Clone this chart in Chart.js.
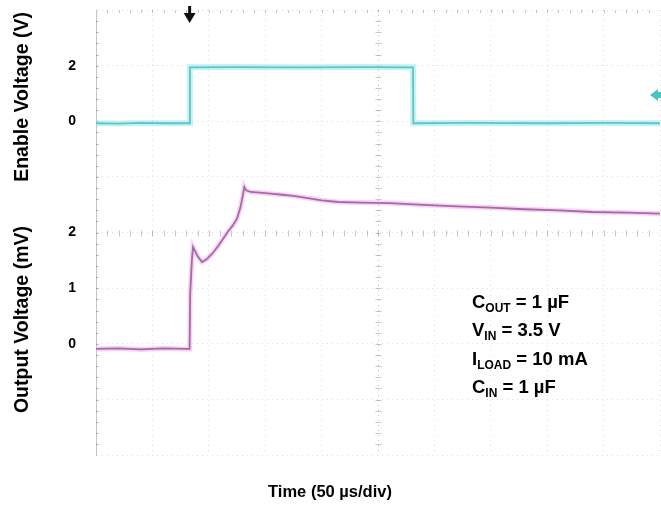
<!DOCTYPE html>
<html><head><meta charset="utf-8">
<script src="https://cdn.jsdelivr.net/npm/chart.js@4.4.1/dist/chart.umd.min.js"></script>
<style>html,body{margin:0;padding:0;background:#fff}#wrap{width:661px;height:506px;position:relative}</style>
</head><body><div id="wrap"><canvas id="c" width="661" height="506"></canvas></div>
<script>
// ---- data (read from the scope capture) ----
const enableTimeUs = [0, 20, 40, 60, 83, 83.3, 120, 180, 240, 281, 281.3, 330, 400, 450, 500];
const enableVolts  = [-0.07, -0.08, -0.06, -0.07, -0.07, 1.94, 1.95, 1.94, 1.95, 1.94, -0.07, -0.06, -0.07, -0.06, -0.07];
const outputTimeUs = [0, 20, 40, 60, 80, 83, 83.5, 85, 86, 90, 94, 98, 103, 108, 113, 117, 121, 125, 128, 130, 131.5, 133, 137, 145, 155, 165, 175, 185, 200, 215, 235, 260, 290, 320, 350, 380, 410, 440, 470, 500];
const outputMilliVolts = [-0.09, -0.08, -0.1, -0.08, -0.09, -0.09, 0.9, 1.5, 1.74, 1.58, 1.47, 1.52, 1.62, 1.75, 1.9, 2.02, 2.12, 2.25, 2.45, 2.65, 2.82, 2.76, 2.73, 2.72, 2.70, 2.68, 2.66, 2.63, 2.58, 2.55, 2.54, 2.53, 2.50, 2.47, 2.45, 2.42, 2.40, 2.37, 2.36, 2.34];
const enableTickLabels = [0, 2];
const outputTickLabels = [0, 1, 2];
const timeGridUs = [0, 50, 100, 150, 200, 250, 300, 350, 400, 450, 500];
const triggerTimeUs = 83;
const noteLines = [["C", "OUT", " = 1 µF"], ["V", "IN", " = 3.5 V"], ["I", "LOAD", " = 10 mA"], ["C", "IN", " = 1 µF"]];

const FONT = "'Liberation Sans', Arial, sans-serif";
const toXY = (xs, ys) => xs.map((x, i) => ({x, y: ys[i]}));

const scopeDecor = {
  id: 'scopeDecor',
  beforeDatasetsDraw(chart) {
    const {ctx, chartArea: a, scales: {x, yOut}} = chart;
    ctx.save();
    ctx.strokeStyle = 'rgba(0,0,0,0.22)'; ctx.lineWidth = 1;
    const cx = Math.round(x.getPixelForValue(250)) + 0.5;
    const cy = Math.round(yOut.getPixelForValue(2)) + 0.5;
    const dy = (a.bottom - a.top) / 40, dx = (a.right - a.left) / 50;
    ctx.beginPath();
    for (let i = 1; i < 40; i++) {
      const yy = Math.round(a.top + i * dy) + 0.5;
      ctx.moveTo(cx - 3, yy); ctx.lineTo(cx + 3, yy);
      ctx.moveTo(a.left, yy); ctx.lineTo(a.left + 3, yy);
    }
    for (let i = 1; i < 50; i++) {
      const xx = Math.round(a.left + i * dx) + 0.5;
      ctx.moveTo(xx, cy - 3); ctx.lineTo(xx, cy + 3);
      ctx.moveTo(xx, a.top); ctx.lineTo(xx, a.top + 3);
    }
    ctx.stroke();
    ctx.restore();
  },
  afterDatasetsDraw(chart) {
    const {ctx, scales: {x}} = chart;
    ctx.save();
    // trigger arrow
    const tx = x.getPixelForValue(triggerTimeUs);
    ctx.fillStyle = '#111'; ctx.strokeStyle = '#111'; ctx.lineWidth = 3;
    ctx.beginPath(); ctx.moveTo(tx, 6); ctx.lineTo(tx, 15); ctx.stroke();
    ctx.beginPath(); ctx.moveTo(tx - 6, 13); ctx.lineTo(tx + 6, 13); ctx.lineTo(tx, 23); ctx.closePath(); ctx.fill();
    // channel marker on right
    ctx.fillStyle = '#4cc4c4';
    ctx.beginPath(); ctx.moveTo(650, 95); ctx.lineTo(658, 89); ctx.lineTo(658, 101); ctx.closePath(); ctx.fill();
    ctx.fillRect(656, 92, 5, 6);
    // note text
    ctx.fillStyle = '#000'; ctx.textBaseline = 'alphabetic';
    const x0 = 472, ys = [308, 336, 365, 393];
    noteLines.forEach((ln, i) => {
      let cx = x0;
      ctx.font = 'bold 18.5px ' + FONT; ctx.fillText(ln[0], cx, ys[i]); cx += ctx.measureText(ln[0]).width;
      ctx.font = 'bold 12px ' + FONT; ctx.fillText(ln[1], cx, ys[i] + 4); cx += ctx.measureText(ln[1]).width;
      ctx.font = 'bold 18.5px ' + FONT; ctx.fillText(ln[2], cx, ys[i]);
    });
    ctx.restore();
  }
};

const gridColor = 'rgba(0,0,0,0.13)';
const tickFont = {family: FONT, size: 14, weight: 'bold'};
const yTitleFont = {family: FONT, size: 19.5, weight: 'bold'};
const xTitleFont = {family: FONT, size: 16.5, weight: 'bold'};
const noPad = s => { s.paddingTop = 0; s.paddingBottom = 0; s.paddingLeft = 0; s.paddingRight = 0; };

new Chart(document.getElementById('c'), {
  type: 'line',
  data: {
    datasets: [
      {data: toXY(enableTimeUs, enableVolts), yAxisID: 'yEnable', borderColor: 'rgba(150,238,238,0.6)', borderWidth: 6, pointRadius: 0, clip: false},
      {data: toXY(enableTimeUs, enableVolts), yAxisID: 'yEnable', borderColor: '#26807f', borderWidth: 1.8, pointRadius: 0, clip: false},
      {data: toXY(outputTimeUs, outputMilliVolts), yAxisID: 'yOut', borderColor: 'rgba(242,175,242,0.55)', borderWidth: 5, pointRadius: 0, clip: false},
      {data: toXY(outputTimeUs, outputMilliVolts), yAxisID: 'yOut', borderColor: '#4a1844', borderWidth: 1.8, pointRadius: 0, clip: false}
    ]
  },
  options: {
    responsive: false, animation: false, maintainAspectRatio: false,
    layout: {padding: {top: 10, right: 1, left: 0, bottom: 0}},
    plugins: {
      legend: {display: false}, tooltip: {enabled: false},
      title: {display: true, position: 'bottom', text: 'Time (50 µs/div)', color: '#000', font: xTitleFont, padding: {top: 27, bottom: 4}}
    },
    scales: {
      x: {
        type: 'linear', min: 0, max: 500,
        afterBuildTicks: s => { s.ticks = timeGridUs.map(v => ({value: v})); },
        afterFit: s => { s.height = 0; noPad(s); },
        ticks: {display: false},
        grid: {color: c => c.tick && c.tick.value === 250 ? 'rgba(0,0,0,0.24)' : gridColor, drawTicks: false},
        border: {display: false, dash: [1, 4]}
      },
      yEnable: {
        type: 'linear', position: 'left', stack: 'scope', stackWeight: 3.125, weight: 2,
        min: -2.25, max: 4,
        afterBuildTicks: s => { s.ticks = [4, 2, 0, -2].map(v => ({value: v})); },
        afterFit: s => { s.width = 96; noPad(s); },
        ticks: {color: '#000', font: tickFont, padding: 20, callback: v => enableTickLabels.includes(v) ? String(v) : ''},
        grid: {color: gridColor, drawTicks: false},
        border: {display: true, color: '#c4c4c4', dash: [1, 4]},
        title: {display: true, text: 'Enable Voltage (V)', color: '#000', font: yTitleFont, padding: {top: 11.3}}
      },
      yOut: {
        type: 'linear', position: 'left', stack: 'scope', stackWeight: 4.875, weight: 1,
        min: -2, max: 2.875,
        afterBuildTicks: s => { s.ticks = [2, 1, 0, -1, -2].map(v => ({value: v})); },
        afterFit: s => { s.width = 96; noPad(s); },
        ticks: {color: '#000', font: tickFont, padding: 20, callback: v => outputTickLabels.includes(v) ? String(v) : ''},
        grid: {color: gridColor, drawTicks: false},
        border: {display: true, color: '#c4c4c4', dash: [1, 4]},
        title: {display: true, text: 'Output Voltage (mV)', color: '#000', font: yTitleFont, padding: {top: 11.3}}
      }
    }
  },
  plugins: [scopeDecor]
});
</script>
</body></html>
